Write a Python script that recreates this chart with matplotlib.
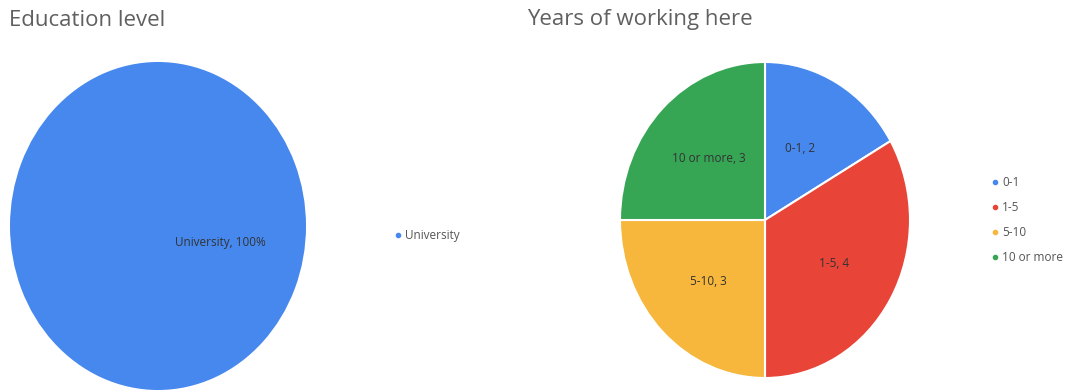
import matplotlib
matplotlib.use('Agg')
import matplotlib.pyplot as plt
from matplotlib.lines import Line2D

plt.rcParams['font.family'] = ['Open Sans', 'DejaVu Sans']

# data
edu_labels = ['University']
edu_values = [100]
edu_colors = ['#4688EE']

years_labels = ['0-1', '1-5', '5-10', '10 or more']
years_values = [2, 4, 3, 3]
years_colors = ['#4688EE', '#E84437', '#F6B73C', '#36A655']

W, H = 1066, 392
fig = plt.figure(figsize=(W / 100, H / 100), dpi=100)

def box(x0, y0, x1, y1):
    # pixel box (top-left origin) -> figure fraction
    return [x0 / W, 1 - y1 / H, (x1 - x0) / W, (y1 - y0) / H]

title_kw = dict(fontsize=16, color='#606060')
label_kw = dict(fontsize=8.5, color='#333333', ha='center', va='center')

# left: education level
ax1 = fig.add_axes(box(10, 62, 306, 390))
ax1.pie(edu_values, colors=edu_colors, startangle=90, counterclock=False,
        wedgeprops=dict(linewidth=0))
ax1.text(0.42, -0.1, f'{edu_labels[0]}, {edu_values[0]}%', **label_kw)
ax1.set_aspect('auto')
ax1.set_xlim(-1, 1)
ax1.set_ylim(-1, 1)
fig.text(9 / W, 1 - 20 / H, 'Education level', va='center', ha='left', **title_kw)

h1 = [Line2D([], [], marker='o', ls='', markersize=3, color=c) for c in edu_colors]
fig.legend(h1, edu_labels, loc='center left', bbox_to_anchor=(384 / W, 1 - 236 / H),
           frameon=False, fontsize=8.5, handlelength=0.6, handletextpad=0.3,
           labelcolor='#555555')

# right: years of working here
ax2 = fig.add_axes(box(620, 62, 910, 378))
wedges, texts = ax2.pie(years_values, colors=years_colors, startangle=90,
                        counterclock=False,
                        labels=[f'{l}, {v}' for l, v in zip(years_labels, years_values)],
                        labeldistance=0.55, textprops=label_kw,
                        wedgeprops=dict(linewidth=1.5, edgecolor='white'))
texts[0].set_position((0.24, 0.45))
ax2.set_aspect('auto')
ax2.set_xlim(-1, 1)
ax2.set_ylim(-1, 1)
fig.text(527 / W, 1 - 20 / H, 'Years of working here', va='center', ha='left', **title_kw)

h2 = [Line2D([], [], marker='o', ls='', markersize=3, color=c) for c in years_colors]
fig.legend(h2, years_labels, loc='center left', bbox_to_anchor=(981 / W, 1 - 220 / H),
           frameon=False, fontsize=8.5, handlelength=0.6, handletextpad=0.3,
           labelspacing=1.0, labelcolor='#555555')

fig.savefig('out.png', dpi=100, facecolor='white')
